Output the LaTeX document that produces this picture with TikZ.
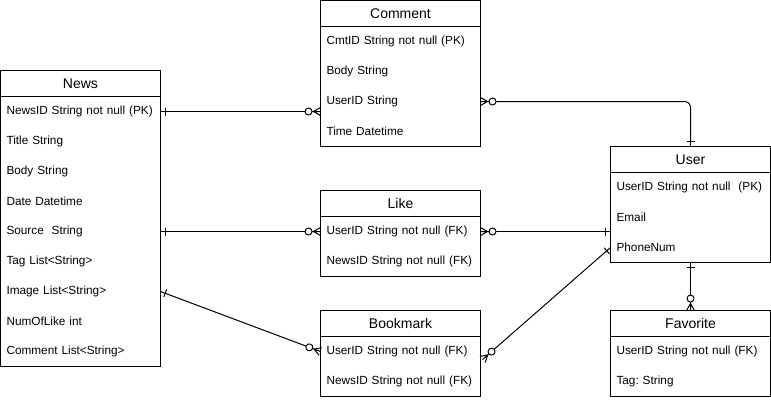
\documentclass[tikz,border=0pt]{standalone}
\usepackage{fontspec}
\setmainfont{Liberation Sans}
\usepackage{tikz}
\usetikzlibrary{arrows.meta}
\frenchspacing

% crow's foot ends
\pgfdeclarearrow{
  name=ZeroMany,
  setup code={
    \pgfarrowssettipend{0pt}
    \pgfarrowssetbackend{-16pt}
    \pgfarrowssetlineend{-15.5pt}
    \pgfarrowshullpoint{0pt}{4pt}
    \pgfarrowshullpoint{0pt}{-4pt}
    \pgfarrowshullpoint{-16pt}{0pt}
  },
  drawing code={
    \pgfsetdash{}{0pt}
    \pgfpathmoveto{\pgfqpoint{-7pt}{0pt}}
    \pgfpathlineto{\pgfqpoint{0pt}{4pt}}
    \pgfpathmoveto{\pgfqpoint{-7pt}{0pt}}
    \pgfpathlineto{\pgfqpoint{0pt}{-4pt}}
    \pgfpathmoveto{\pgfqpoint{-8.5pt}{0pt}}
    \pgfpathlineto{\pgfqpoint{0pt}{0pt}}
    \pgfusepathqstroke
    \pgfpathcircle{\pgfqpoint{-12pt}{0pt}}{3.5pt}
    \pgfusepathqstroke
  }
}
\pgfdeclarearrow{
  name=OneBar,
  setup code={
    \pgfarrowssettipend{0pt}
    \pgfarrowssetbackend{-5pt}
    \pgfarrowssetlineend{-5pt}
    \pgfarrowshullpoint{0pt}{4pt}
    \pgfarrowshullpoint{0pt}{-4pt}
    \pgfarrowshullpoint{-5pt}{0pt}
  },
  drawing code={
    \pgfsetdash{}{0pt}
    \pgfpathmoveto{\pgfqpoint{-5pt}{-4pt}}
    \pgfpathlineto{\pgfqpoint{-5pt}{4pt}}
    \pgfpathmoveto{\pgfqpoint{-5pt}{0pt}}
    \pgfpathlineto{\pgfqpoint{0pt}{0pt}}
    \pgfusepathqstroke
  }
}

\tikzset{
  hdr/.style={draw, anchor=north west, inner sep=0pt, outer sep=0pt,
    minimum width=160pt, minimum height=26pt,
    font=\fontsize{14}{16}\selectfont},
  fld/.style={anchor=north west, inner sep=0pt, outer sep=0pt,
    text width=160pt, align=left, minimum height=30pt,
    font=\fontsize{11.8}{14}\selectfont,
    execute at begin node={\hspace*{6pt}}},
  rel/.style={line width=1pt, line join=round}
}

\begin{document}
\begin{tikzpicture}[x=1pt,y=-1pt,line width=1pt]
\useasboundingbox (0,0) rectangle (771,400);

% News
\node[hdr] (news) at (0.5,70.5) {News};
\node[fld] (newsid) at (news.south west) {NewsID String not null (PK)};
\node[fld] (newstitle) at (newsid.south west) {Title String};
\node[fld] (newsbody) at (newstitle.south west) {Body String};
\node[fld] (newsdate) at (newsbody.south west) {Date Datetime};
\node[fld] (newssrc) at (newsdate.south west) {Source\ \ String};
\node[fld] (newstag) at (newssrc.south west) {Tag List<String>};
\node[fld] (newsimg) at (newstag.south west) {Image List<String>};
\node[fld] (newslike) at (newsimg.south west) {NumOfLike int};
\node[fld] (newscmt) at (newslike.south west) {Comment List<String>};
\draw (newsid.north west) rectangle (newscmt.south east);

% Comment
\node[hdr] (cmt) at (320.5,0.5) {Comment};
\node[fld] (cmtid) at (cmt.south west) {CmtID String not null (PK)};
\node[fld] (cmtbody) at (cmtid.south west) {Body String};
\node[fld] (cmtuser) at (cmtbody.south west) {UserID String};
\node[fld] (cmttime) at (cmtuser.south west) {Time Datetime};
\draw (cmtid.north west) rectangle (cmttime.south east);

% Like
\node[hdr] (like) at (320.5,190.5) {Like};
\node[fld] (likeuser) at (like.south west) {UserID String not null (FK)};
\node[fld] (likenews) at (likeuser.south west) {NewsID String not null (FK)};
\draw (likeuser.north west) rectangle (likenews.south east);

% Bookmark
\node[hdr] (bm) at (320.5,310.5) {Bookmark};
\node[fld] (bmuser) at (bm.south west) {UserID String not null (FK)};
\node[fld] (bmnews) at (bmuser.south west) {NewsID String not null (FK)};
\draw (bmuser.north west) rectangle (bmnews.south east);

% User
\node[hdr] (user) at (610.5,146.5) {User};
\node[fld] (userid) at (user.south west) {UserID String not null\ \ (PK)};
\node[fld] (usermail) at (userid.south west) {Email};
\node[fld] (userphone) at (usermail.south west) {PhoneNum};
\draw (userid.north west) rectangle (userphone.south east);

% Favorite
\node[hdr] (fav) at (610.5,310.5) {Favorite};
\node[fld] (favuser) at (fav.south west) {UserID String not null (FK)};
\node[fld] (favtag) at (favuser.south west) {Tag: String};
\draw (favuser.north west) rectangle (favtag.south east);

% relations
\draw[rel,{OneBar}-{ZeroMany}] (newsid.east) -- (newsid.east -| cmtuser.west);
\draw[rel,{OneBar}-{ZeroMany}] (newssrc.east) -- (likeuser.west);
\draw[rel,{OneBar}-{ZeroMany}] (newsimg.east) -- (bmuser.west);
\draw[rel,rounded corners=6pt,{ZeroMany}-{OneBar}] (cmtuser.east) -| (user.north);
\draw[rel,{ZeroMany}-{OneBar}] (likeuser.east) -- (likeuser.east -| user.west);
\draw[rel,{ZeroMany}-{OneBar}] ([xshift=2pt,yshift=-8pt]bmuser.east) -- (userphone.west);
\draw[rel,{OneBar}-{ZeroMany}] (userphone.south) -- (fav.north);

\end{tikzpicture}
\end{document}
